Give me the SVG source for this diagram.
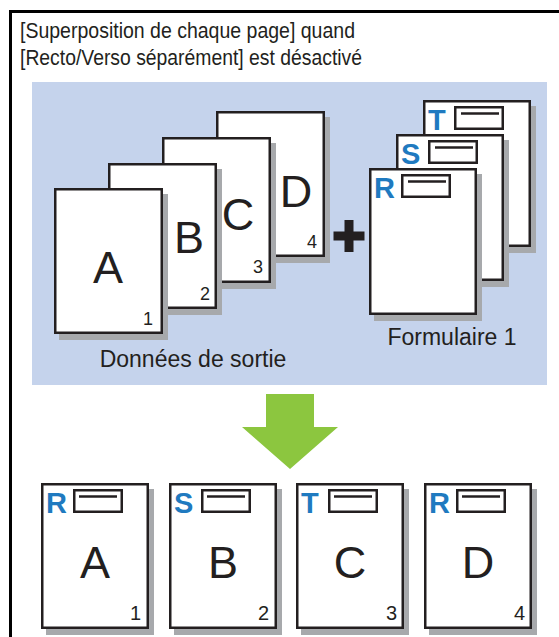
<svg xmlns="http://www.w3.org/2000/svg" width="559" height="637" viewBox="0 0 559 637">
<style>
text{font-family:"Liberation Sans",Arial,sans-serif;fill:#231f20}
.pg{fill:#fff;stroke:#231f20;stroke-width:2.5}
.sh{fill:#a7a9ac}
.big{font-size:45px;text-anchor:middle}
.num{font-size:18px;text-anchor:end}
.numb{font-size:20px;text-anchor:end}
.lbl{font-size:23px;text-anchor:middle}
.ttl{font-size:22px}
.mk{font-size:29px;font-weight:bold;fill:#1f7ac0}
.box{fill:#fff;stroke:#231f20;stroke-width:2.5}
.ln{stroke:#231f20;stroke-width:2.5}
</style>
<rect width="559" height="637" fill="#fff"/>
<g id="frame">
<polyline points="10.5,637 10.5,11.5 559,11.5" fill="none" stroke="#000" stroke-width="3"/>
</g>
<g id="title">
<text class="ttl" x="20" y="38" textLength="335" lengthAdjust="spacingAndGlyphs">[Superposition de chaque page] quand</text>
<text class="ttl" x="20" y="65" textLength="342" lengthAdjust="spacingAndGlyphs">[Recto/Verso séparément] est désactivé</text>
</g>
<rect id="panel" x="32" y="82" width="515" height="303" fill="#c5d3ec"/>
<g id="output-data">
<g id="page-D">
<rect class="sh" x="221" y="117" width="109" height="146"/>
<rect class="pg" x="217.25" y="112.25" width="106.5" height="143.5"/>
<text class="big" x="296" y="207">D</text>
<text class="num" x="317" y="248">4</text>
</g>
<g id="page-C">
<rect class="sh" x="167" y="143" width="109" height="146"/>
<rect class="pg" x="163.25" y="138.25" width="106.5" height="143.5"/>
<text class="big" x="238" y="230">C</text>
<text class="num" x="263" y="273">3</text>
</g>
<g id="page-B">
<rect class="sh" x="113" y="169" width="109" height="146"/>
<rect class="pg" x="109.25" y="164.25" width="106.5" height="143.5"/>
<text class="big" x="189" y="253">B</text>
<text class="num" x="210" y="300">2</text>
</g>
<g id="page-A">
<rect class="sh" x="59" y="194" width="109" height="146"/>
<rect class="pg" x="55.25" y="189.25" width="106.5" height="143.5"/>
<text class="big" x="108" y="283">A</text>
<text class="num" x="153" y="325">1</text>
</g>
<text class="lbl" x="193" y="367">Données de sortie</text>
</g>
<g id="plus">
<rect x="344.5" y="220" width="9" height="32" fill="#231f20"/>
<rect x="333.5" y="231.5" width="31" height="9" fill="#231f20"/>
</g>
<g id="form-1">
<g id="form-T">
<rect class="sh" x="428" y="106" width="108" height="147"/>
<rect class="pg" x="424.25" y="101.25" width="105.5" height="144.5"/>
<text class="mk" x="428" y="130">T</text>
<rect class="box" x="455.25" y="107.25" width="47.5" height="21.5"/>
<line class="ln" x1="461" y1="113.5" x2="499" y2="113.5"/>
</g>
<g id="form-S">
<rect class="sh" x="401" y="140" width="108" height="147"/>
<rect class="pg" x="397.25" y="135.25" width="105.5" height="144.5"/>
<text class="mk" x="401" y="164">S</text>
<rect class="box" x="429.25" y="141.25" width="47.5" height="21.5"/>
<line class="ln" x1="435" y1="147.5" x2="473" y2="147.5"/>
</g>
<g id="form-R">
<rect class="sh" x="374" y="174" width="108" height="147"/>
<rect class="pg" x="370.25" y="169.25" width="105.5" height="144.5"/>
<text class="mk" x="374" y="198">R</text>
<rect class="box" x="402.25" y="175.25" width="47.5" height="21.5"/>
<line class="ln" x1="408" y1="181.5" x2="446" y2="181.5"/>
</g>
<text class="lbl" x="452" y="345">Formulaire 1</text>
</g>
<g id="connectors">
<polygon id="arrow" points="266,394 314,394 314,427 338,427 290,469 242,427 266,427" fill="#8cc63f"/>
</g>
<g id="result-1">
<rect class="sh" x="46" y="489" width="108" height="146"/>
<rect class="pg" x="42.25" y="484.25" width="105.5" height="143.5"/>
<text class="mk" x="46" y="513">R</text>
<rect class="box" x="74.25" y="490.25" width="47.5" height="21.5"/>
<line class="ln" x1="79" y1="496.5" x2="117" y2="496.5"/>
<text class="big" x="95" y="578">A</text>
<text class="numb" x="141" y="620">1</text>
</g>
<g id="result-2">
<rect class="sh" x="174" y="489" width="108" height="146"/>
<rect class="pg" x="170.25" y="484.25" width="105.5" height="143.5"/>
<text class="mk" x="174" y="513">S</text>
<rect class="box" x="202.25" y="490.25" width="47.5" height="21.5"/>
<line class="ln" x1="207" y1="496.5" x2="245" y2="496.5"/>
<text class="big" x="223" y="578">B</text>
<text class="numb" x="269" y="620">2</text>
</g>
<g id="result-3">
<rect class="sh" x="301" y="489" width="108" height="146"/>
<rect class="pg" x="297.25" y="484.25" width="105.5" height="143.5"/>
<text class="mk" x="301" y="513">T</text>
<rect class="box" x="329.25" y="490.25" width="47.5" height="21.5"/>
<line class="ln" x1="334" y1="496.5" x2="372" y2="496.5"/>
<text class="big" x="350" y="578">C</text>
<text class="numb" x="397" y="620">3</text>
</g>
<g id="result-4">
<rect class="sh" x="429" y="489" width="108" height="146"/>
<rect class="pg" x="425.25" y="484.25" width="105.5" height="143.5"/>
<text class="mk" x="429" y="513">R</text>
<rect class="box" x="457.25" y="490.25" width="47.5" height="21.5"/>
<line class="ln" x1="462" y1="496.5" x2="500" y2="496.5"/>
<text class="big" x="478" y="578">D</text>
<text class="numb" x="525" y="620">4</text>
</g>
</svg>
